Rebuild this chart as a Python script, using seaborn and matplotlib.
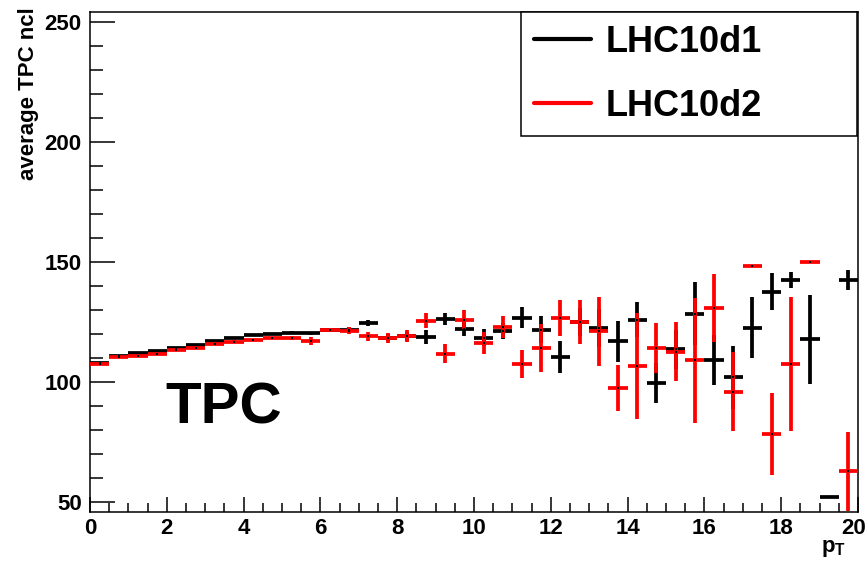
import numpy as np
import pandas as pd
import matplotlib
matplotlib.use("Agg")
import matplotlib.pyplot as plt
from matplotlib.lines import Line2D
from matplotlib.ticker import MultipleLocator
from matplotlib.transforms import ScaledTranslation
import seaborn as sns

# bins of 0.5 in pT, 0..20
pt_centers = np.arange(0.25, 20.0, 0.5)
bin_half = 0.25

lhc10d1_mean = [108.0, 111.0, 112.0, 113.0, 114.3, 115.3, 117.0, 118.5, 119.5, 120.0,
                120.5, 120.3, 121.5, 121.8, 124.5, 118.5, 119.0, 118.8, 126.1, 122.0,
                118.4, 121.2, 126.8, 121.8, 110.3, 125.0, 122.5, 116.9, 126.0, 99.4,
                113.6, 128.4, 109.3, 101.9, 122.6, 137.7, 142.5, 117.8, 52.1, 142.5]
lhc10d1_err = [0.3, 0.3, 0.3, 0.3, 0.3, 0.4, 0.4, 0.4, 0.5, 0.5,
               0.6, 0.6, 0.8, 1.2, 1.3, 1.5, 2.0, 2.8, 2.5, 3.0,
               3.5, 3.5, 4.3, 5.5, 6.7, 6.0, 8.0, 8.7, 7.3, 8.3,
               8.0, 13.2, 10.4, 13.0, 12.8, 7.8, 3.3, 18.5, 0.0, 4.0]

lhc10d2_mean = [107.6, 110.2, 110.9, 111.5, 113.2, 114.0, 116.0, 116.8, 117.4, 118.3,
                118.3, 117.1, 121.5, 121.3, 119.0, 118.2, 119.2, 125.6, 111.8, 126.0,
                116.2, 123.0, 107.5, 114.2, 126.6, 125.0, 121.2, 97.6, 106.7, 114.2,
                112.5, 109.1, 130.8, 95.9, 148.5, 78.3, 107.4, 149.9, np.nan, 62.7]
lhc10d2_err = [0.3, 0.3, 0.3, 0.3, 0.4, 0.4, 0.4, 0.5, 0.5, 0.6,
               0.7, 1.5, 0.8, 1.5, 2.0, 2.0, 2.5, 3.0, 4.0, 4.0,
               4.5, 4.5, 6.0, 9.9, 7.6, 9.0, 14.4, 9.6, 22.0, 10.4,
               12.3, 26.0, 14.2, 16.5, 0.0, 17.0, 28.0, 0.0, 0.0, 16.6]

samples = ["LHC10d1", "LHC10d2"]
colors = {"LHC10d1": "black", "LHC10d2": "#ff0000"}

df = pd.concat([
    pd.DataFrame({"pt": pt_centers, "ncl": lhc10d1_mean, "err": lhc10d1_err, "sample": "LHC10d1"}),
    pd.DataFrame({"pt": pt_centers, "ncl": lhc10d2_mean, "err": lhc10d2_err, "sample": "LHC10d2"}),
], ignore_index=True)

sns.set_style("white")
plt.rcParams["font.family"] = ["Liberation Sans", "DejaVu Sans"]
plt.rcParams["text.color"] = "black"
plt.rcParams["axes.labelcolor"] = "black"
plt.rcParams["mathtext.fontset"] = "custom"
plt.rcParams["mathtext.bf"] = "Liberation Sans:bold"
plt.rcParams["mathtext.rm"] = "Liberation Sans"

fig = plt.figure(figsize=(8.68, 5.63), dpi=100)
ax = fig.add_axes([90 / 868, 1 - 512 / 563, 768 / 868, 500 / 563])

for s in samples:
    d = df[df["sample"] == s].dropna()
    ax.errorbar(d["pt"], d["ncl"], xerr=bin_half, yerr=d["err"], fmt="none",
                ecolor=colors[s], elinewidth=2.7, capsize=0, zorder=3)

# tiny centre dots like ROOT marker 1
sns.scatterplot(data=df.dropna(), x="pt", y="ncl", color="black", marker="s",
                s=2, linewidth=0, ax=ax, zorder=4, legend=False)

ax.set_xlim(0, 20)
ax.set_ylim(45.8, 254.2)
ax.xaxis.set_major_locator(MultipleLocator(2))
ax.xaxis.set_minor_locator(MultipleLocator(0.5))
ax.yaxis.set_major_locator(MultipleLocator(50))
ax.yaxis.set_minor_locator(MultipleLocator(10))
ax.tick_params(axis="both", which="both", direction="in", width=1.1, colors="black",
               top=False, right=False, left=True, bottom=True)
ax.tick_params(axis="y", which="major", length=18, pad=6)
ax.tick_params(axis="y", which="minor", length=9)
ax.tick_params(axis="x", which="major", length=11, pad=4)
ax.tick_params(axis="x", which="minor", length=6.5)
ax.tick_params(axis="both", which="major", labelsize=16)
for sp in ax.spines.values():
    sp.set_visible(True)
    sp.set_color("black")
    sp.set_linewidth(1.1)

ax.set_ylabel("average TPC ncl", fontsize=16, fontweight="bold", loc="top")
ax.yaxis.set_label_coords(-0.066, 1.01)
ax.set_xlabel(r"$\mathbf{p_{T}}$", fontsize=16, loc="right")
ax.xaxis.set_label_coords(0.985, -0.052)

ax.text(1.95, 82.8, "TPC", fontsize=42, fontweight="bold", va="baseline", ha="left",
        color="black")

handles = [Line2D([0], [0], color=colors[s], lw=3) for s in samples]
leg = fig.legend(handles, samples, loc="upper left", mode="expand",
                 bbox_to_anchor=(521 / 868, 1 - 136 / 563, 336 / 868, 124 / 563),
                 bbox_transform=fig.transFigure, prop={"weight": "bold", "size": 26},
                 frameon=True, fancybox=False, shadow=False, framealpha=1,
                 edgecolor="black", borderpad=0.35, labelspacing=0.8,
                 handlelength=1.6, handletextpad=0.4, borderaxespad=0)
leg.get_frame().set_linewidth(1.1)

# bold tick labels, and pull the "20" label a bit inside the canvas
fig.canvas.draw()
for t in ax.xaxis.get_major_ticks() + ax.yaxis.get_major_ticks():
    t.label1.set_fontweight("bold")
last_tick = [t for t in ax.xaxis.get_major_ticks() if abs(t.get_loc() - 20) < 1e-6][0]
last_tick.label1.set_transform(last_tick.label1.get_transform()
                               + ScaledTranslation(-4 / 100, 0, fig.dpi_scale_trans))

fig.savefig("out.png", dpi=100)
